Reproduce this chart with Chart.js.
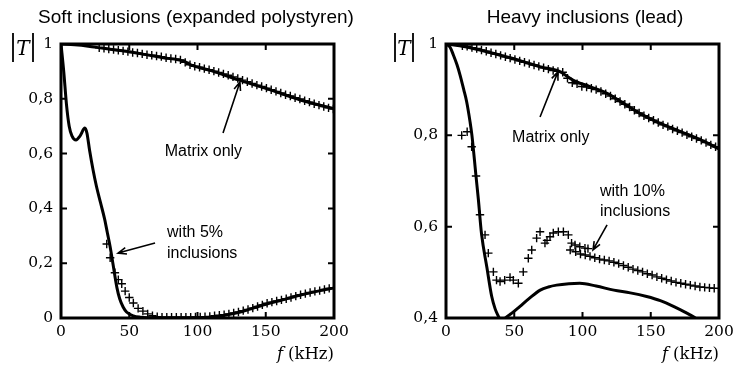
<!DOCTYPE html>
<html><head><meta charset="utf-8">
<script src="https://cdn.jsdelivr.net/npm/chart.js@4"></script>
<style>
html,body{margin:0;padding:0;background:#fff;overflow:hidden;width:733px;height:369px;}
#c1{position:absolute;left:0;top:0;width:370px;height:369px;}
#c2{position:absolute;left:370px;top:0;width:380px;height:369px;}
</style></head><body>
<canvas id="c1" width="370" height="369"></canvas>
<canvas id="c2" width="380" height="369"></canvas>
<script>
// ---------- tick labels ----------
const xTicks = [0, 50, 100, 150, 200];
const xTickLabels = ['0', '50', '100', '150', '200'];
const yTicksSoft = [0, 0.2, 0.4, 0.6, 0.8, 1];
const yTickLabelsSoft = ['0', '0,2', '0,4', '0,6', '0,8', '1'];
const yTicksHeavy = [0.4, 0.6, 0.8, 1];
const yTickLabelsHeavy = ['0,4', '0,6', '0,8', '1'];

// ---------- Soft inclusions (left) ----------
const softMatrixLineF = [0, 10, 20, 30, 45, 60, 75, 90, 95, 110, 130, 150, 165, 180, 200];
const softMatrixLineV = [1, 0.997, 0.992, 0.985, 0.975, 0.963, 0.95, 0.937, 0.924, 0.903, 0.869, 0.838, 0.813, 0.789, 0.764];
const softMatrixPtsF = [28, 31.5, 35, 38.5, 42, 45.5, 49, 52.5, 56, 59.5, 63, 66.5, 70, 73.5, 77, 80.5, 84, 87.5, 91, 94.5, 98, 101.5, 105, 108.5, 112, 115.5, 119, 122.5, 126, 129.5, 133, 136.5, 140, 143.5, 147, 150.5, 154, 157.5, 161, 164.5, 168, 171.5, 175, 178.5, 182, 185.5, 189, 192.5, 196, 199.5];
const softMatrixPtsV = [0.986, 0.984, 0.982, 0.98, 0.977, 0.975, 0.972, 0.969, 0.967, 0.964, 0.961, 0.959, 0.956, 0.954, 0.95, 0.947, 0.945, 0.942, 0.933, 0.924, 0.919, 0.915, 0.91, 0.906, 0.901, 0.896, 0.891, 0.886, 0.88, 0.874, 0.868, 0.862, 0.856, 0.85, 0.845, 0.839, 0.833, 0.827, 0.821, 0.815, 0.81, 0.804, 0.799, 0.793, 0.788, 0.782, 0.777, 0.772, 0.767, 0.763];
const soft5LineF = [0, 2, 4, 6, 8, 11, 14, 17.5, 19, 21, 23.5, 26, 29, 32, 34, 36, 38, 41, 43, 45.5, 48, 53, 58, 65, 80, 100, 110, 120, 130, 140, 150, 160, 175, 190, 200];
const soft5LineV = [1, 0.9, 0.78, 0.7, 0.665, 0.65, 0.665, 0.693, 0.675, 0.61, 0.54, 0.48, 0.42, 0.36, 0.31, 0.26, 0.2, 0.11, 0.07, 0.04, 0.022, 0.008, 0.003, 0.001, 0, 0, 0.003, 0.01, 0.02, 0.035, 0.05, 0.063, 0.083, 0.1, 0.11];
const soft5PtsF = [33.5, 36, 39.5, 42, 44.5, 47, 50, 53, 56.5, 60, 63.5, 67, 70.5, 74, 77.5, 81, 84.5, 88, 91.5, 95, 98.5, 102, 105.5, 109, 112.5, 116, 119.5, 123, 126.5, 130, 133.5, 137, 140.5, 144, 147.5, 151, 154.5, 158, 161.5, 165, 168.5, 172, 175.5, 179, 182.5, 186, 189.5, 193, 196.5, 200];
const soft5PtsV = [0.27, 0.22, 0.165, 0.14, 0.125, 0.098, 0.075, 0.055, 0.035, 0.025, 0.015, 0.008, 0.005, 0.003, 0.003, 0.003, 0.003, 0.003, 0.003, 0.003, 0.004, 0.004, 0.005, 0.006, 0.008, 0.01, 0.012, 0.015, 0.018, 0.022, 0.027, 0.031, 0.036, 0.042, 0.048, 0.054, 0.058, 0.062, 0.066, 0.07, 0.075, 0.08, 0.085, 0.089, 0.093, 0.097, 0.1, 0.104, 0.108, 0.111];

// ---------- Heavy inclusions (right) ----------
const heavyMatrixLineF = [0, 10, 20, 30, 44, 56, 69, 83, 93, 105, 118, 130, 142, 154, 166, 179, 191, 200];
const heavyMatrixLineV = [1, 0.996, 0.99, 0.983, 0.972, 0.962, 0.95, 0.94, 0.921, 0.907, 0.892, 0.87, 0.848, 0.83, 0.815, 0.8, 0.784, 0.77];
const heavyMatrixPtsF = [12, 15.5, 19, 22.5, 26, 29.5, 33, 36.5, 40, 43.5, 47, 50.5, 54, 57.5, 61, 64.5, 68, 71.5, 75, 78.5, 82, 85.5, 89, 92.5, 96, 99.5, 103, 106.5, 110, 113.5, 117, 120.5, 124, 127.5, 131, 134.5, 138, 141.5, 145, 148.5, 152, 155.5, 159, 162.5, 166, 169.5, 173, 176.5, 180, 183.5, 187, 190.5, 194, 197.5];
const heavyMatrixPtsV = [0.996, 0.995, 0.992, 0.99, 0.987, 0.984, 0.981, 0.978, 0.975, 0.972, 0.969, 0.966, 0.963, 0.96, 0.957, 0.954, 0.951, 0.948, 0.945, 0.942, 0.94, 0.938, 0.925, 0.915, 0.913, 0.907, 0.906, 0.903, 0.9, 0.896, 0.891, 0.886, 0.88, 0.874, 0.868, 0.862, 0.855, 0.849, 0.843, 0.838, 0.833, 0.828, 0.823, 0.819, 0.814, 0.81, 0.806, 0.801, 0.797, 0.793, 0.789, 0.784, 0.779, 0.775];
const heavy10LineF = [0, 3, 5.4, 8, 10.3, 13, 15.1, 17.6, 19, 22, 23.7, 26, 30, 33.5, 36, 38.5, 41, 43.5, 48, 54, 61, 69, 75, 81, 90, 98, 110, 123, 135, 147, 157, 167, 175, 181, 186];
const heavy10LineV = [1, 0.993, 0.976, 0.955, 0.932, 0.9, 0.874, 0.83, 0.8, 0.71, 0.66, 0.585, 0.51, 0.447, 0.42, 0.403, 0.388, 0.4, 0.41, 0.425, 0.443, 0.461, 0.468, 0.472, 0.475, 0.476, 0.47, 0.461, 0.455, 0.447, 0.438, 0.425, 0.413, 0.403, 0.392];
const heavy10PtsF = [11.5, 15.5, 18.8, 22, 24.9, 28.6, 31, 34.7, 37, 39.6, 43, 46.9, 49.3, 53, 56.6, 60.3, 62.8, 66.4, 68.9, 72.5, 74, 76.2, 78.6, 82.3, 86, 89.6, 91, 92, 94.5, 95, 98, 98.5, 101.8, 102, 104, 105.5, 109, 112.5, 116, 119.5, 123, 126.5, 130, 133.5, 137, 140.5, 144, 147.5, 151, 154.5, 158, 161.5, 165, 168.5, 172, 175.5, 179, 182.5, 186, 189.5, 193, 196.5];
const heavy10PtsV = [0.8, 0.808, 0.775, 0.711, 0.626, 0.582, 0.542, 0.501, 0.483, 0.48, 0.483, 0.489, 0.483, 0.476, 0.501, 0.531, 0.549, 0.575, 0.589, 0.564, 0.57, 0.578, 0.586, 0.589, 0.589, 0.582, 0.549, 0.564, 0.56, 0.545, 0.556, 0.54, 0.553, 0.538, 0.552, 0.535, 0.532, 0.529, 0.527, 0.525, 0.522, 0.519, 0.515, 0.511, 0.507, 0.504, 0.501, 0.497, 0.494, 0.49, 0.487, 0.484, 0.481, 0.478, 0.476, 0.474, 0.472, 0.47, 0.468, 0.467, 0.466, 0.465];

// ---------- annotations (data coordinates) ----------
const softNotes = [
  {text: 'Matrix only', f: 76, v: 0.606},
  {text: 'with 5%', f: 77.7, v: 0.31},
  {text: 'inclusions', f: 77.7, v: 0.234}
];
const softArrows = [
  {from: [118.7, 0.675], to: [131.1, 0.861]},
  {from: [68.9, 0.274], to: [41.8, 0.237]}
];
const heavyNotes = [
  {text: 'Matrix only', f: 48.4, v: 0.794},
  {text: 'with 10%', f: 112.8, v: 0.676},
  {text: 'inclusions', f: 112.8, v: 0.634}
];
const heavyArrows = [
  {from: [68.9, 0.84], to: [82, 0.939]},
  {from: [118, 0.604], to: [107.7, 0.549]}
];

const SERIF = '"DejaVu Serif", "Liberation Serif", serif';
const SANS = '"Liberation Sans", Arial, sans-serif';

function pts(fs, vs) { return fs.map((f, i) => ({x: f, y: vs[i]})); }

function lineDS(fs, vs) {
  return {data: pts(fs, vs), showLine: true, borderColor: '#000', borderWidth: 3,
    pointRadius: 0, cubicInterpolationMode: 'monotone', fill: false, clip: 1, order: 2};
}
function crossDS(fs, vs) {
  return {data: pts(fs, vs), showLine: false, pointStyle: 'cross', pointRadius: 4.2,
    pointBorderWidth: 1.4, pointBorderColor: '#000', pointBackgroundColor: '#000', clip: 0, order: 1};
}

const decorPlugin = {
  id: 'decor',
  afterDraw(chart) {
    const o = chart.options.plugins.decor;
    const ctx = chart.ctx, a = chart.chartArea;
    const xs = chart.scales.x, ys = chart.scales.y;
    ctx.save();
    ctx.strokeStyle = '#000';
    ctx.fillStyle = '#000';
    // frame
    ctx.lineWidth = 3;
    ctx.strokeRect(a.left, a.top, a.right - a.left, a.bottom - a.top);
    // inward ticks
    ctx.lineWidth = 2;
    const L = 6;
    ctx.beginPath();
    xTicks.forEach(t => {
      if (t === xs.min || t === xs.max) return;
      const px = xs.getPixelForValue(t);
      ctx.moveTo(px, a.bottom); ctx.lineTo(px, a.bottom - L);
      ctx.moveTo(px, a.top); ctx.lineTo(px, a.top + L);
    });
    o.yTicks.forEach(t => {
      if (t === ys.min || t === ys.max) return;
      const py = ys.getPixelForValue(t);
      ctx.moveTo(a.left, py); ctx.lineTo(a.left + L, py);
      ctx.moveTo(a.right, py); ctx.lineTo(a.right - L, py);
    });
    ctx.stroke();
    // title
    ctx.font = '19px ' + SANS;
    ctx.textAlign = 'center';
    ctx.textBaseline = 'middle';
    ctx.fillText(o.title, o.titleX, 18);
    // |T|
    ctx.lineWidth = 1.8;
    ctx.beginPath();
    ctx.moveTo(o.barX1, 33); ctx.lineTo(o.barX1, 62);
    ctx.moveTo(o.barX2, 33); ctx.lineTo(o.barX2, 62);
    ctx.stroke();
    ctx.font = 'italic 20px ' + SERIF;
    ctx.textAlign = 'center';
    ctx.textBaseline = 'alphabetic';
    ctx.fillText('T', (o.barX1 + o.barX2) / 2, 55);
    // f (kHz)
    ctx.font = '16.5px ' + SERIF;
    ctx.textAlign = 'right';
    ctx.fillText('(kHz)', a.right, 359);
    const w = ctx.measureText('(kHz)').width;
    ctx.font = 'italic 16.5px ' + SERIF;
    ctx.fillText('f', a.right - w - 5, 359);
    // notes
    ctx.font = '16px ' + SANS;
    ctx.textAlign = 'left';
    ctx.textBaseline = 'middle';
    o.notes.forEach(n => ctx.fillText(n.text, xs.getPixelForValue(n.f), ys.getPixelForValue(n.v)));
    // arrows
    ctx.lineWidth = 1.6;
    o.arrows.forEach(ar => {
      const x1 = xs.getPixelForValue(ar.from[0]), y1 = ys.getPixelForValue(ar.from[1]);
      const x2 = xs.getPixelForValue(ar.to[0]), y2 = ys.getPixelForValue(ar.to[1]);
      const ang = Math.atan2(y2 - y1, x2 - x1);
      const h = 9, sp = 0.38;
      ctx.beginPath();
      ctx.moveTo(x1, y1); ctx.lineTo(x2, y2);
      ctx.moveTo(x2 - h * Math.cos(ang - sp), y2 - h * Math.sin(ang - sp));
      ctx.lineTo(x2, y2);
      ctx.lineTo(x2 - h * Math.cos(ang + sp), y2 - h * Math.sin(ang + sp));
      ctx.stroke();
    });
    ctx.restore();
  }
};

function makeChart(id, cfg) {
  return new Chart(document.getElementById(id), {
    type: 'scatter',
    data: {datasets: cfg.datasets},
    plugins: [decorPlugin],
    options: {
      responsive: false,
      animation: false,
      events: [],
      layout: {padding: {left: 0, right: cfg.padRight, top: 44, bottom: 0}},
      plugins: {
        legend: {display: false},
        tooltip: {enabled: false},
        decor: cfg.decor
      },
      scales: {
        x: {
          type: 'linear', min: 0, max: 200,
          afterBuildTicks: s => { s.ticks = xTicks.map(v => ({value: v})); },
          afterFit: s => { s.height = 51; },
          grid: {display: false, drawTicks: false},
          border: {display: false},
          ticks: {color: '#000', padding: 5, maxRotation: 0, autoSkip: false,
            font: {family: SERIF, size: 15.5},
            callback: (v) => xTickLabels[xTicks.indexOf(v)]}
        },
        y: {
          type: 'linear', min: cfg.yMin, max: 1,
          afterBuildTicks: s => { s.ticks = cfg.decor.yTicks.map(v => ({value: v})); },
          afterFit: s => { s.width = cfg.yWidth; },
          grid: {display: false, drawTicks: false},
          border: {display: false},
          ticks: {color: '#000', padding: 8, autoSkip: false,
            font: {family: SERIF, size: 15.5},
            callback: (v) => cfg.yLabels[cfg.decor.yTicks.findIndex(t => Math.abs(t - v) < 1e-9)]}
        }
      }
    }
  });
}

makeChart('c1', {
  yMin: 0, yWidth: 61, padRight: 36, yLabels: yTickLabelsSoft,
  datasets: [
    lineDS(softMatrixLineF, softMatrixLineV),
    crossDS(softMatrixPtsF, softMatrixPtsV),
    lineDS(soft5LineF, soft5LineV),
    crossDS(soft5PtsF, soft5PtsV)
  ],
  decor: {title: 'Soft inclusions (expanded polystyren)', titleX: 196, barX1: 13, barX2: 33,
    yTicks: yTicksSoft, notes: softNotes, arrows: softArrows}
});

makeChart('c2', {
  yMin: 0.4, yWidth: 76, padRight: 31, yLabels: yTickLabelsHeavy,
  datasets: [
    lineDS(heavyMatrixLineF, heavyMatrixLineV),
    crossDS(heavyMatrixPtsF, heavyMatrixPtsV),
    lineDS(heavy10LineF, heavy10LineV),
    crossDS(heavy10PtsF, heavy10PtsV)
  ],
  decor: {title: 'Heavy inclusions (lead)', titleX: 215, barX1: 25, barX2: 43,
    yTicks: yTicksHeavy, notes: heavyNotes, arrows: heavyArrows}
});
</script>
</body></html>
